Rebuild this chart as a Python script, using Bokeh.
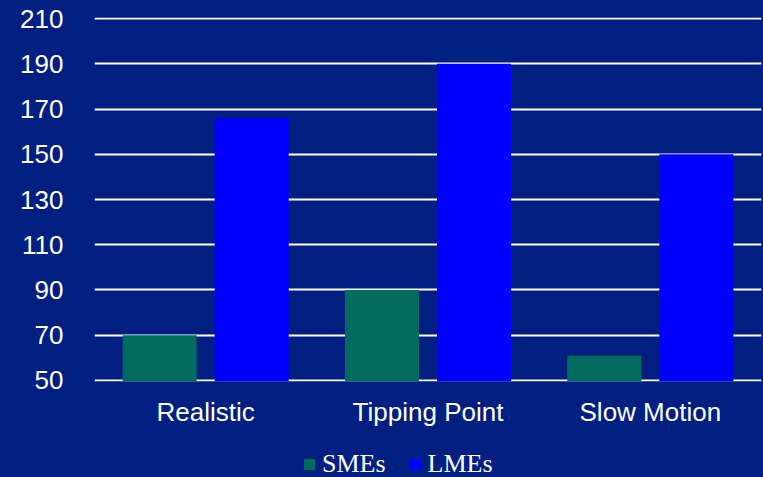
from bokeh.plotting import figure
from bokeh.layouts import column
from bokeh.models import ColumnDataSource, Range1d, FixedTicker, Legend, LegendItem
from bokeh.transform import dodge
from bokeh.embed import file_html
from bokeh.resources import INLINE

categories = ["Realistic", "Tipping Point", "Slow Motion"]
smes = [70, 90, 61]
lmes = [166, 190, 150]
y_ticks = [50, 70, 90, 110, 130, 150, 170, 190, 210]
series_names = ["SMEs", "LMEs"]

BG = "#001f80"
GREEN = "#006b5e"
BLUE = "#0000ff"
source = ColumnDataSource(data=dict(cat=categories, smes=smes, lmes=lmes))

p = figure(width=763, height=440, x_range=categories, y_range=Range1d(49.5, 210.5),
           output_backend="svg", toolbar_location=None,
           min_border_left=94, min_border_right=2, min_border_top=17, min_border_bottom=59)
p.background_fill_color = BG
p.border_fill_color = BG
p.outline_line_color = BG
p.outline_line_width = 1

p.vbar(x=dodge("cat", -0.207, range=p.x_range), top="smes", bottom=49.5, width=0.333,
       source=source, fill_color=GREEN, line_color=None)
p.vbar(x=dodge("cat", 0.207, range=p.x_range), top="lmes", bottom=49.5, width=0.333,
       source=source, fill_color=BLUE, line_color=None)

p.xgrid.grid_line_color = None
p.ygrid.grid_line_color = "white"
p.ygrid.grid_line_width = 2
p.ygrid.ticker = FixedTicker(ticks=y_ticks)
p.ygrid.level = "underlay"

p.yaxis.ticker = FixedTicker(ticks=y_ticks)
for ax in (p.xaxis[0], p.yaxis[0]):
    ax.axis_line_color = None
    ax.major_tick_line_color = None
    ax.minor_tick_line_color = None
    ax.major_tick_out = 0
    ax.major_tick_in = 0
    ax.major_label_text_color = "white"
    ax.major_label_text_font = "Liberation Sans"
    ax.major_label_text_font_size = "26px"
p.yaxis.major_label_standoff = 31
p.xaxis.major_label_standoff = 15

# legend strip below the chart
lg = figure(width=763, height=37, x_range=p.x_range, y_range=Range1d(1000, 1001),
            output_backend="svg", toolbar_location=None,
            min_border_left=0, min_border_right=0, min_border_top=0, min_border_bottom=0)
lg.background_fill_color = BG
lg.border_fill_color = BG
lg.outline_line_color = BG
lg.outline_line_width = 1
lg.axis.visible = False
lg.grid.visible = False
k1 = lg.vbar(x=dodge("cat", -0.207, range=lg.x_range), top="smes", bottom=49.5, width=0.333,
             source=source, fill_color=GREEN, line_color=None)
k2 = lg.vbar(x=dodge("cat", 0.207, range=lg.x_range), top="lmes", bottom=49.5, width=0.333,
             source=source, fill_color=BLUE, line_color=None)

legend = Legend(items=[LegendItem(label=series_names[0], renderers=[k1]),
                       LegendItem(label=series_names[1], renderers=[k2])],
                orientation="horizontal", location=(208, -2))
legend.background_fill_alpha = 0
legend.border_line_color = None
legend.label_text_color = "white"
legend.label_text_font = "Liberation Serif"
legend.label_text_font_size = "26px"
legend.glyph_width = 14
legend.glyph_height = 14
legend.label_standoff = 6
legend.spacing = 22
legend.padding = 0
legend.margin = 0
lg.add_layout(legend, "center")

layout = column(p, lg, spacing=0)
html = file_html(layout, INLINE)
html = html.replace("</head>", "<style>html,body{margin:0;padding:0;background:%s}</style></head>" % BG, 1)
open("out.html", "w").write(html)
